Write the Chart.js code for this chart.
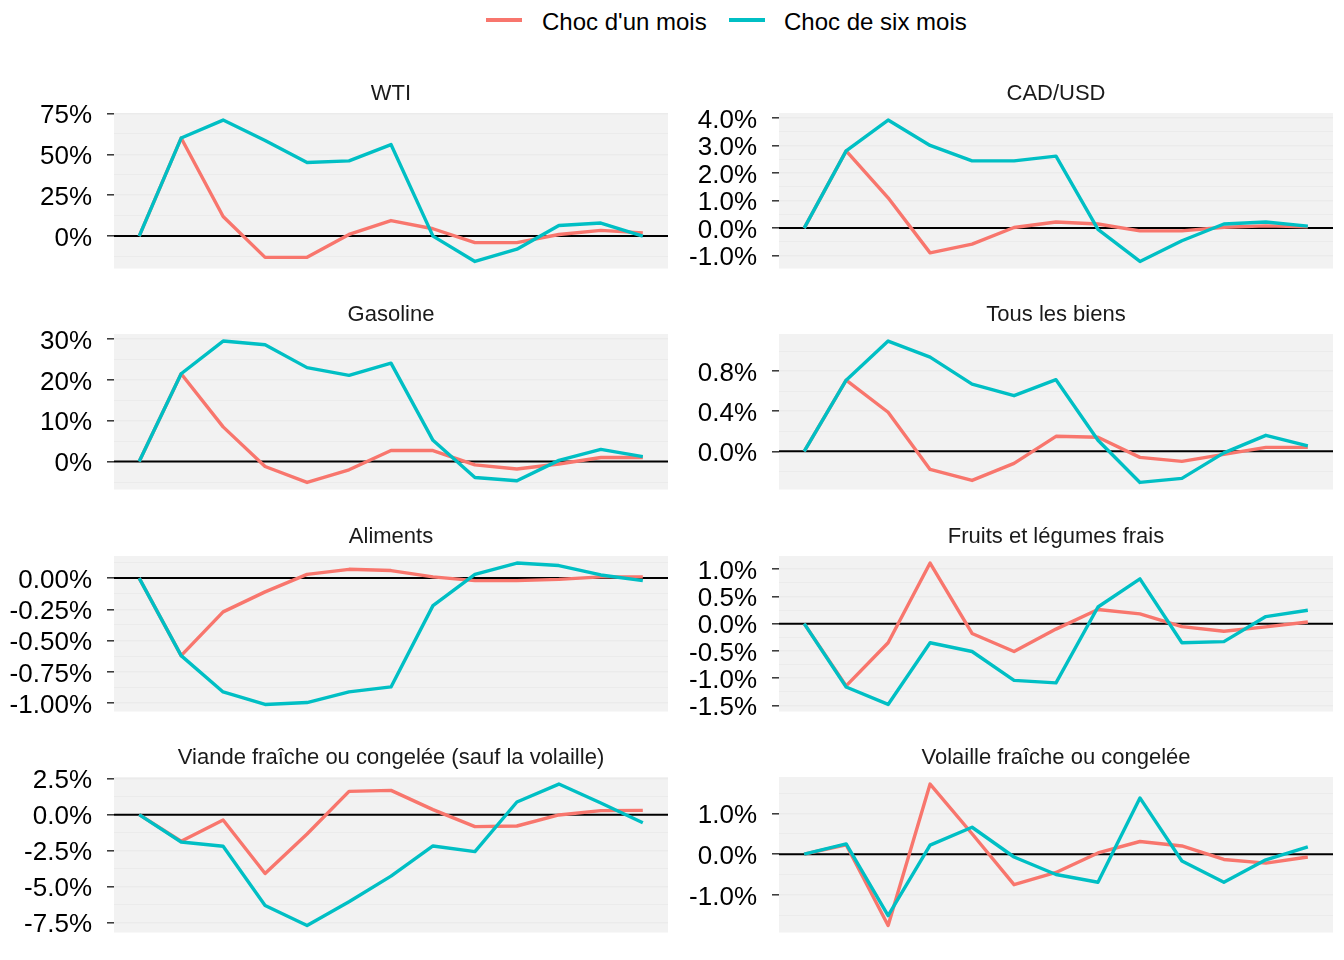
<!DOCTYPE html>
<html lang="fr">
<head>
<meta charset="utf-8">
<title>Chocs d'un mois et de six mois</title>
<script src="https://cdn.jsdelivr.net/npm/chart.js@4.4.1/dist/chart.umd.min.js"></script>
<style>
  body { margin: 0; background: #fff; }
  #page { position: relative; width: 1344px; height: 960px; overflow: hidden; font-family: "Liberation Sans", Arial, sans-serif; }
  .cle { position: absolute; top: 18px; height: 4px; width: 36px; }
  .texte { position: absolute; top: 7px; line-height: 30px; font-size: 24px; color: #000; white-space: nowrap; }
  canvas { position: absolute; }
</style>
</head>
<body>
<div id="page">
  <div class="cle" style="left:486px; background:#F8766D"></div>
  <div class="texte" style="left:542px">Choc d'un mois</div>
  <div class="cle" style="left:729px; background:#00BFC4"></div>
  <div class="texte" style="left:784px">Choc de six mois</div>
</div>

<script>
// horizons (mois après le choc)
const horizons = [0, 1, 2, 3, 4, 5, 6, 7, 8, 9, 10, 11, 12];

// réponses en % : choc d'un mois / choc de six mois
const wtiUnMois   = [0, 60, 12, -13, -13, 1, 9.5, 4.5, -4, -4, 1, 3.5, 2];
const wtiSixMois  = [0, 60, 71, 58.5, 45, 46, 56, 0, -15.5, -8, 6.5, 8, 0];

const cadUnMois   = [0, 2.8, 1.1, -0.9, -0.58, 0.02, 0.22, 0.15, -0.1, -0.1, 0.03, 0.08, 0.05];
const cadSixMois  = [0, 2.8, 3.92, 3.0, 2.44, 2.44, 2.61, -0.05, -1.21, -0.46, 0.15, 0.22, 0.07];

const gasUnMois   = [0, 21.5, 8.5, -1.2, -5.1, -2.0, 2.7, 2.7, -0.8, -1.8, -0.6, 1.0, 1.0];
const gasSixMois  = [0, 21.5, 29.5, 28.6, 23.0, 21.1, 24.1, 5.2, -3.9, -4.7, 0.3, 3.0, 1.2];

const biensUnMois  = [0, 0.71, 0.39, -0.18, -0.29, -0.12, 0.15, 0.14, -0.06, -0.1, -0.03, 0.04, 0.04];
const biensSixMois = [0, 0.71, 1.1, 0.94, 0.67, 0.555, 0.715, 0.11, -0.31, -0.27, -0.015, 0.16, 0.055];

const alimUnMois  = [0, -0.62, -0.27, -0.11, 0.03, 0.07, 0.06, 0.01, -0.02, -0.02, -0.01, 0.01, 0.01];
const alimSixMois = [0, -0.62, -0.91, -1.01, -0.995, -0.91, -0.87, -0.22, 0.03, 0.12, 0.1, 0.025, -0.02];

const fruitsUnMois  = [0, -1.14, -0.35, 1.11, -0.18, -0.51, -0.1, 0.26, 0.18, -0.055, -0.14, -0.06, 0.03];
const fruitsSixMois = [0, -1.16, -1.48, -0.35, -0.51, -1.04, -1.085, 0.305, 0.82, -0.35, -0.33, 0.13, 0.245];

const viandeUnMois  = [0, -1.85, -0.37, -4.1, -1.35, 1.62, 1.69, 0.35, -0.83, -0.79, -0.02, 0.28, 0.3];
const viandeSixMois = [0, -1.9, -2.2, -6.32, -7.71, -6.06, -4.28, -2.18, -2.57, 0.88, 2.13, 0.81, -0.56];

const volUnMois  = [0, 0.23, -1.75, 1.72, 0.5, -0.75, -0.45, 0.03, 0.31, 0.2, -0.13, -0.22, -0.07];
const volSixMois = [0, 0.25, -1.51, 0.22, 0.66, -0.07, -0.5, -0.69, 1.38, -0.17, -0.69, -0.14, 0.18];

// graduations principales de chaque panneau
const wtiTicks    = [0, 25, 50, 75];
const cadTicks    = [-1, 0, 1, 2, 3, 4];
const gasTicks    = [0, 10, 20, 30];
const biensTicks  = [0, 0.4, 0.8];
const alimTicks   = [-1, -0.75, -0.5, -0.25, 0];
const fruitsTicks = [-1.5, -1, -0.5, 0, 0.5, 1];
const viandeTicks = [-7.5, -5, -2.5, 0, 2.5];
const volTicks    = [-1, 0, 1];

const titres = ['WTI', 'CAD/USD', 'Gasoline', 'Tous les biens', 'Aliments',
  'Fruits et légumes frais', 'Viande fraîche ou congelée (sauf la volaille)', 'Volaille fraîche ou congelée'];
const decimales = [0, 1, 0, 1, 2, 1, 1, 1];

const panneaux = [
  [wtiUnMois, wtiSixMois, wtiTicks],
  [cadUnMois, cadSixMois, cadTicks],
  [gasUnMois, gasSixMois, gasTicks],
  [biensUnMois, biensSixMois, biensTicks],
  [alimUnMois, alimSixMois, alimTicks],
  [fruitsUnMois, fruitsSixMois, fruitsTicks],
  [viandeUnMois, viandeSixMois, viandeTicks],
  [volUnMois, volSixMois, volTicks],
];

const ROUGE = '#F8766D';
const BLEU = '#00BFC4';
const POLICE = '"Liberation Sans", Arial, sans-serif';

// fond gris du panneau + ligne du zéro
const fondPanneau = {
  id: 'fondPanneau',
  beforeDraw(chart) {
    const { ctx, chartArea: a } = chart;
    ctx.save();
    ctx.fillStyle = '#F2F2F2';
    ctx.fillRect(a.left, a.top, a.width, a.height);
    ctx.restore();
  },
  beforeDatasetsDraw(chart) {
    const { ctx, chartArea: a, scales } = chart;
    const y0 = scales.y.getPixelForValue(0);
    ctx.save();
    ctx.strokeStyle = '#000';
    ctx.lineWidth = 2;
    ctx.beginPath();
    ctx.moveTo(a.left, y0);
    ctx.lineTo(a.right, y0);
    ctx.stroke();
    ctx.restore();
  }
};

const page = document.getElementById('page');
const hautPanneau = [113, 334, 556, 777];

panneaux.forEach(([unMois, sixMois, grille], i) => {
  const col = i % 2;
  const ligne = Math.floor(i / 2);

  // étendue façon ggplot : 5 % de part et d'autre des données
  const tout = unMois.concat(sixMois);
  const bas = Math.min(...tout), haut = Math.max(...tout);
  const ymin = bas - 0.05 * (haut - bas);
  const ymax = haut + 0.05 * (haut - bas);

  // graduations secondaires au milieu des principales
  const pas = grille[1] - grille[0];
  const graduations = [];
  for (let v = grille[0] - pas / 2; v <= ymax; v += pas / 2) {
    if (v >= ymin) graduations.push({ value: v, mineur: !grille.some(g => Math.abs(g - v) < 1e-9) });
  }

  const canvas = document.createElement('canvas');
  canvas.width = 672;
  canvas.height = 236;
  canvas.style.left = (col * 672) + 'px';
  canvas.style.top = (hautPanneau[ligne] - 40) + 'px';
  page.appendChild(canvas);

  new Chart(canvas.getContext('2d'), {
    type: 'line',
    data: {
      datasets: [
        {
          label: "Choc d'un mois",
          data: horizons.map((h, k) => ({ x: h, y: unMois[k] })),
          borderColor: ROUGE,
          order: 1
        },
        {
          label: 'Choc de six mois',
          data: horizons.map((h, k) => ({ x: h, y: sixMois[k] })),
          borderColor: BLEU,
          order: 0
        }
      ]
    },
    options: {
      responsive: false,
      animation: false,
      layout: { padding: { top: 0, left: 0, right: col === 0 ? 4 : 11, bottom: 40.5 } },
      elements: {
        point: { radius: 0 },
        line: { borderWidth: 3.4, tension: 0, borderJoinStyle: 'round', fill: false }
      },
      plugins: {
        legend: { display: false },
        tooltip: { enabled: false },
        title: {
          display: true,
          text: titres[i],
          fullSize: false,
          color: '#1A1A1A',
          font: { family: POLICE, size: 22, weight: 'normal', lineHeight: 1.2 },
          padding: { top: 8, bottom: 5.6 }
        }
      },
      scales: {
        x: { type: 'linear', min: -0.6, max: 12.6, bounds: 'data', display: false },
        y: {
          type: 'linear',
          min: ymin,
          max: ymax,
          bounds: 'data',
          afterBuildTicks: s => { s.ticks = graduations.map(g => ({ value: g.value, mineur: g.mineur })); },
          afterFit: s => { s.width = col === 0 ? 114 : 107; },
          border: { display: false },
          grid: {
            color: '#EBEBEB',
            lineWidth: c => (c.tick && c.tick.mineur) ? 1 : 1.6,
            tickColor: c => (c.tick && c.tick.mineur) ? 'rgba(0,0,0,0)' : '#333333',
            tickLength: 7,
            tickWidth: 1.5
          },
          ticks: {
            autoSkip: false,
            padding: 15,
            color: '#000',
            // ligne vide devant le libellé : le descend de ~2.5 px comme dans ggplot
            font: { family: POLICE, size: 26, lineHeight: '5px' },
            callback: (v, k, ticks) => ticks[k].mineur ? '' : ['', v.toFixed(decimales[i]) + '%']
          }
        }
      }
    },
    plugins: [fondPanneau]
  });
});
</script>
</body>
</html>
